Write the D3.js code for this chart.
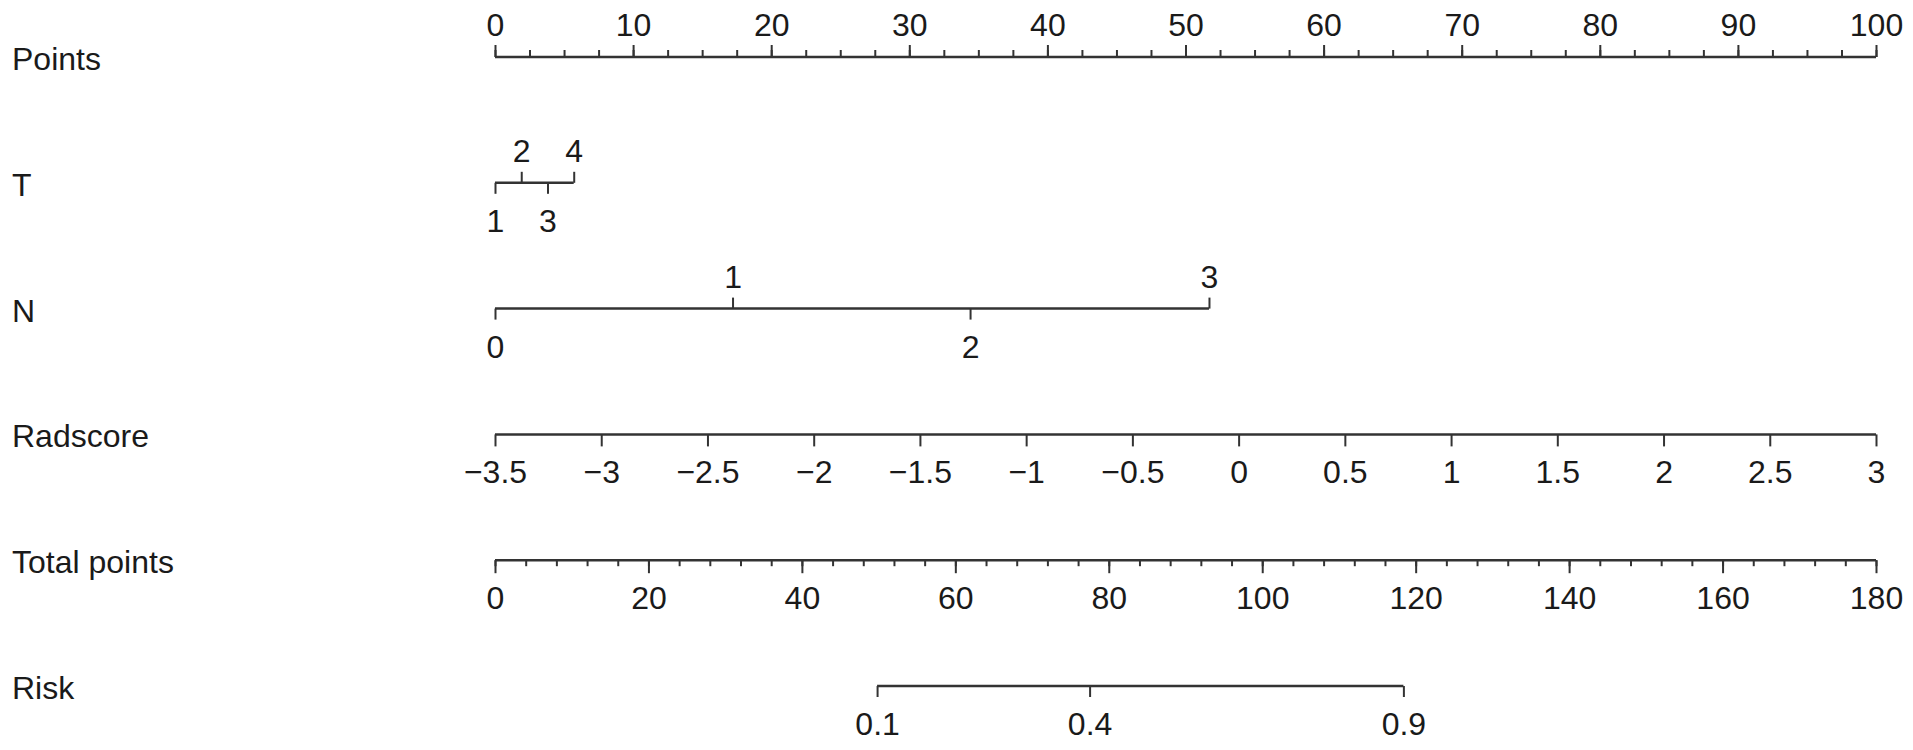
<!DOCTYPE html>
<html>
<head>
<meta charset="utf-8">
<script src="https://cdn.jsdelivr.net/npm/d3@7"></script>
<style>
  body { margin: 0; background: #fff; }
  text { font-family: "Liberation Sans", Arial, sans-serif; fill: #1a1a1a; }
  .axis line, .axis path { stroke: #333; }
</style>
</head>
<body>
<svg id="canvas" width="1913" height="750"></svg>
<script>
// nomogram rows
var rowNames = ["Points", "T", "N", "Radscore", "Total points", "Risk"];

var pointsRange = [0, 100];
var pointsMajor = [0, 10, 20, 30, 40, 50, 60, 70, 80, 90, 100];
var pointsMinorStep = 2.5;

var tLevels = ["1", "2", "3", "4"];
var tPoints = [0, 1.9, 3.8, 5.7];

var nLevels = ["0", "1", "2", "3"];
var nPoints = [0, 17.2, 34.4, 51.7];

var radRange = [-3.5, 3];
var radTicks = [-3.5, -3, -2.5, -2, -1.5, -1, -0.5, 0, 0.5, 1, 1.5, 2, 2.5, 3];

var totalRange = [0, 180];
var totalMajor = [0, 20, 40, 60, 80, 100, 120, 140, 160, 180];
var totalMinorStep = 4;

var riskTicks = [0.1, 0.4, 0.9];
var riskTotal = [49.8, 77.5, 118.4];   // total points where each risk sits

var svg = d3.select("#canvas");
var left = 495, right = 1876;
var fontSize = 32;

var rowY = d3.scalePoint().domain(rowNames).range([57, 686]);

var x = d3.scaleLinear().domain(pointsRange).range([left, right]);
var xTotal = d3.scaleLinear().domain(totalRange).range([left, right]);
var xRad = d3.scaleLinear().domain(radRange).range([left, right]);

// row labels
svg.selectAll("text.rowlabel")
    .data(rowNames)
    .enter().append("text")
    .attr("class", "rowlabel")
    .attr("x", 12)
    .attr("y", function(d){ return rowY(d) + 13; })
    .style("font-size", fontSize + "px")
    .text(function(d){ return d; });

function baseLine(y, x1, x2){
    svg.append("line")
        .attr("x1", x1).attr("x2", x2)
        .attr("y1", y).attr("y2", y)
        .attr("stroke", "#333")
        .attr("stroke-width", 2.5);
}

// draws ticks (+ labels) with a d3 axis; dir "up" or "down"
function tickRow(y, scale, values, fmt, dir, size, showText){
    var ax = dir == "up" ? d3.axisTop(scale) : d3.axisBottom(scale);
    ax.tickValues(values).tickSize(size).tickSizeOuter(0);
    if(fmt) ax.tickFormat(fmt);
    var g = svg.append("g")
        .attr("class", "axis")
        .attr("transform", "translate(0," + y + ")")
        .call(ax);
    g.select(".domain").remove();
    g.selectAll(".tick line").attr("stroke-width", 2);
    if(!showText){
        g.selectAll(".tick text").remove();
        return;
    }
    g.selectAll(".tick text")
        .attr("y", dir == "up" ? -21 : 49)
        .attr("dy", 0)
        .style("font-size", fontSize + "px")
        .style("font-family", "'Liberation Sans', Arial, sans-serif")
        .attr("fill", "#1a1a1a");
}

function minorValues(range, step){
    return d3.range(range[0], range[1] + step / 2, step);
}

// Points
var yP = rowY("Points");
baseLine(yP, left, right);
tickRow(yP, x, minorValues(pointsRange, pointsMinorStep), null, "up", 7, false);
tickRow(yP, x, pointsMajor, d3.format("d"), "up", 12, true);

// categorical rows, labels alternate below / above
function levelRow(name, levels, pts){
    var y = rowY(name);
    baseLine(y, x(d3.min(pts)), x(d3.max(pts)));
    var below = pts.filter(function(d, i){ return i % 2 == 0; });
    var above = pts.filter(function(d, i){ return i % 2 == 1; });
    var lab = function(p){ return levels[pts.indexOf(p)]; };
    tickRow(y, x, below, lab, "down", 11, true);
    tickRow(y, x, above, lab, "up", 11, true);
}
levelRow("T", tLevels, tPoints);
levelRow("N", nLevels, nPoints);

// Radscore
var yR = rowY("Radscore");
baseLine(yR, left, right);
tickRow(yR, xRad, radTicks, d3.format(""), "down", 12, true);

// Total points
var yT = rowY("Total points");
baseLine(yT, left, right);
tickRow(yT, xTotal, minorValues(totalRange, totalMinorStep), null, "down", 6, false);
tickRow(yT, xTotal, totalMajor, d3.format("d"), "down", 13, true);

// Risk
var yK = rowY("Risk");
baseLine(yK, xTotal(d3.min(riskTotal)), xTotal(d3.max(riskTotal)));
tickRow(yK, xTotal, riskTotal, function(p){ return riskTicks[riskTotal.indexOf(p)]; }, "down", 11, true);
</script>
</body>
</html>
